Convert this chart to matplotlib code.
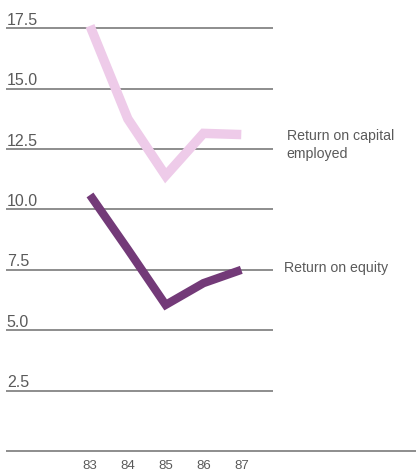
import matplotlib
matplotlib.use("Agg")
import matplotlib.pyplot as plt

years = [83, 84, 85, 86, 87]
year_labels = ["83", "84", "85", "86", "87"]
capital_employed = [17.6, 13.75, 11.4, 13.15, 13.1]
equity = [10.6, 8.35, 6.05, 6.95, 7.5]
grid_values = [2.5, 5.0, 7.5, 10.0, 12.5, 15.0, 17.5]
grid_labels = ["2.5", "5.0", "7.5", "10.0", "12.5", "15.0", "17.5"]

plt.rcParams['font.family'] = ['Liberation Sans', 'DejaVu Sans']

fig = plt.figure(figsize=(4.16, 4.74), dpi=100)
ax = fig.add_axes([0, 0, 1, 1])
ax.set_xlim(80.62, 91.62)
ax.set_ylim(-0.95, 18.67)
ax.axis('off')

grid_col = '#858585'
text_col = '#5a5a5a'

# horizontal rules with their labels sitting on top
ax.hlines(grid_values, 80.78, 87.84, color=grid_col, lw=1.3, zorder=1)
ax.hlines(0, 80.78, 91.62, color=grid_col, lw=1.3, zorder=1)
for v, lab in zip(grid_values, grid_labels):
    ax.annotate(lab, (80.8, v), xytext=(0, 2.5), textcoords='offset points',
                ha='left', va='baseline', fontsize=11.5, color=text_col)

for x, lab in zip(years, year_labels):
    ax.text(x, -0.6, lab, ha='center', va='center', fontsize=9.5, color=text_col)

ax.plot(years, capital_employed, color='#eecbe9', lw=6.8,
        solid_capstyle='butt', solid_joinstyle='miter', zorder=3)
ax.plot(years, equity, color='#733a78', lw=6.0,
        solid_capstyle='butt', solid_joinstyle='miter', zorder=3)

ax.text(88.2, 12.67, "Return on capital\nemployed", ha='left', va='center',
        fontsize=10.2, color=text_col, linespacing=1.35)
ax.text(88.12, 7.57, "Return on equity", ha='left', va='center',
        fontsize=10.2, color=text_col)

fig.savefig('out.png', dpi=100)
